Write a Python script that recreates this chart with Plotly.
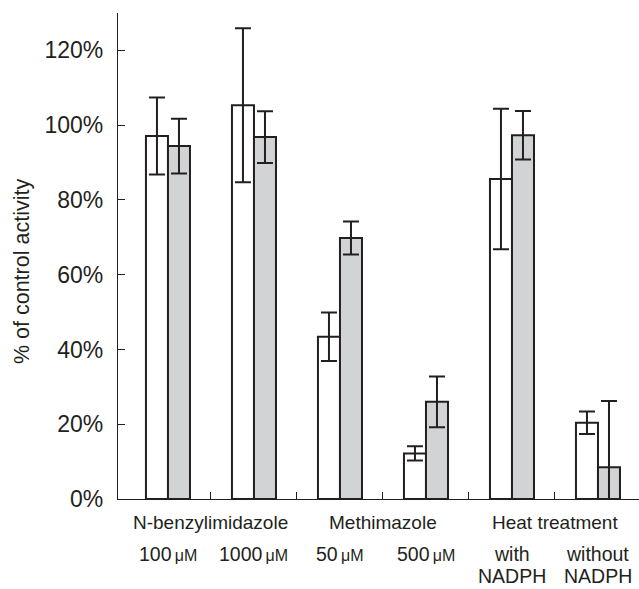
import plotly.graph_objects as go

# Data
positions = [0, 1, 2, 3, 4, 5]
white_vals = [97.1, 105.3, 43.4, 12.2, 85.6, 20.4]
white_err = [10.3, 20.6, 6.5, 1.9, 18.8, 3.0]
grey_vals = [94.4, 96.8, 69.8, 26.0, 97.3, 8.5]
grey_err_plus = [7.3, 6.9, 4.4, 6.8, 6.5, 17.7]
grey_err_minus = [7.3, 6.9, 4.4, 6.8, 6.5, 8.5]

group_labels = ["N-benzylimidazole", "Methimazole", "Heat treatment"]
group_centers = [0.5, 2.5, 4.5]
sub_labels = ["100", "1000", "50", "500", "with", "without"]
sub_units = [True, True, True, True, False, False]
third_labels = ["", "", "", "", "NADPH", "NADPH"]

y_ticks = [0, 20, 40, 60, 80, 100, 120]
y_ticktext = [f"{v}%" for v in y_ticks]

DARK = "#231f20"
GREY = "#d1d3d4"
FONT = "Liberation Sans, Arial, Helvetica, sans-serif"

fig = go.Figure()
fig.add_trace(go.Bar(
    x=positions, y=white_vals,
    marker=dict(color="white", line=dict(color=DARK, width=2)),
    error_y=dict(type="data", array=white_err, color=DARK, thickness=2, width=8),
    showlegend=False,
))
fig.add_trace(go.Bar(
    x=positions, y=grey_vals,
    marker=dict(color=GREY, line=dict(color=DARK, width=2)),
    error_y=dict(type="data", symmetric=False, array=grey_err_plus,
                 arrayminus=grey_err_minus, color=DARK, thickness=2, width=8),
    showlegend=False,
))

annotations = []
for lbl, xc in zip(group_labels, group_centers):
    annotations.append(dict(x=xc, y=0, xref="x", yref="y", text=lbl, showarrow=False,
                            xanchor="center", yanchor="middle", yshift=-23,
                            font=dict(family=FONT, size=19, color=DARK)))
for xc, lbl, unit in zip(positions, sub_labels, sub_units):
    txt = lbl + ("<span style='font-size:16px'>\u2009μM</span>" if unit else "")
    annotations.append(dict(x=xc, y=0, xref="x", yref="y", text=txt, showarrow=False,
                            xanchor="center", yanchor="middle", yshift=-55,
                            font=dict(family=FONT, size=19.5, color=DARK)))
for xc, lbl in zip(positions, third_labels):
    if lbl:
        annotations.append(dict(x=xc, y=0, xref="x", yref="y", text=lbl, showarrow=False,
                                xanchor="center", yanchor="middle", yshift=-77,
                                font=dict(family=FONT, size=19.5, color=DARK)))
annotations.append(dict(x=-0.1843, y=0.469, xref="paper", yref="paper",
                        text="% of control activity", textangle=-90, showarrow=False,
                        xanchor="center", yanchor="middle",
                        font=dict(family=FONT, size=21.5, color=DARK)))

fig.update_layout(
    width=639, height=589,
    margin=dict(l=118, r=0, t=13, b=90),
    paper_bgcolor="white", plot_bgcolor="white",
    barmode="group", bargap=0.488, bargroupgap=0,
    annotations=annotations,
    font=dict(family=FONT, color=DARK),
)
fig.update_xaxes(
    range=[-0.581, 5.477], showgrid=False, zeroline=False,
    showline=True, linecolor=DARK, linewidth=1.2,
    tickmode="array", tickvals=[0.5, 1.5, 2.5, 3.5, 4.5], ticktext=[""] * 5,
    ticks="inside", ticklen=7, tickwidth=1.2, tickcolor=DARK,
    showticklabels=False,
)
fig.update_yaxes(
    range=[0, 130], showgrid=False, zeroline=False,
    showline=True, linecolor=DARK, linewidth=1.2,
    tickmode="array", tickvals=y_ticks, ticktext=y_ticktext,
    ticks="inside", ticklen=7, tickwidth=1.2, tickcolor=DARK,
    tickfont=dict(family=FONT, size=23, color=DARK),
    ticklabelstandoff=9,
)

fig.write_html("out.html")
